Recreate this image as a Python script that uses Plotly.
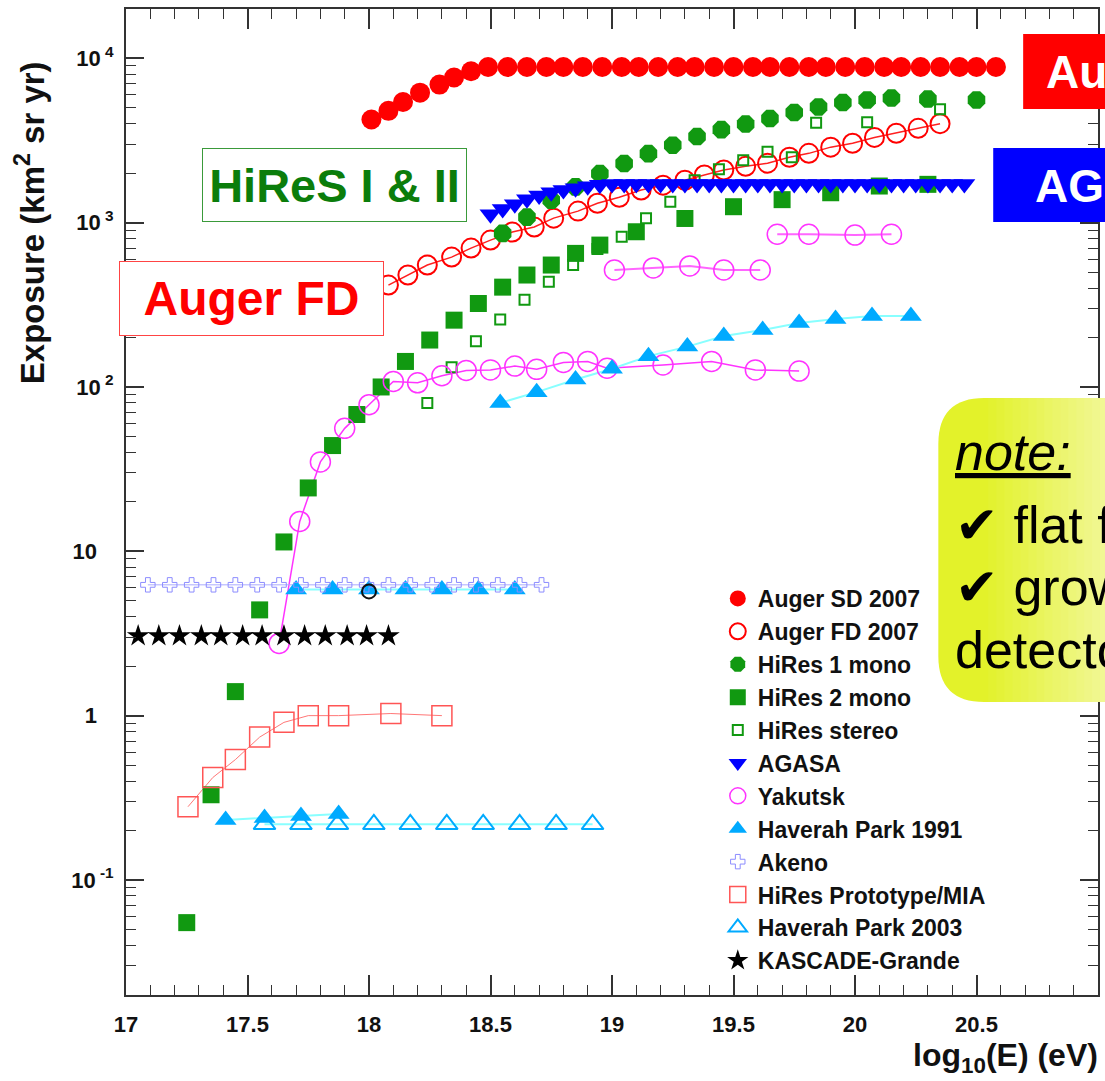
import plotly.graph_objects as go

# ---------------- data (lg E , exposure km^2 sr yr) ----------------
sd_x = [18.01, 18.08, 18.14, 18.21, 18.29, 18.35, 18.42, 18.49, 18.57, 18.65, 18.73, 18.80,
        18.88, 18.96, 19.04, 19.11, 19.19, 19.27, 19.34, 19.42, 19.50, 19.58, 19.65, 19.73,
        19.81, 19.88, 19.96, 20.04, 20.12, 20.19, 20.27, 20.35, 20.43, 20.50, 20.58]
sd_y = [4240, 4790, 5420, 6180, 6920, 7640, 8340, 8850, 8850, 8850, 8850, 8850,
        8850, 8850, 8850, 8850, 8850, 8850, 8850, 8850, 8850, 8850, 8850, 8850,
        8850, 8850, 8850, 8850, 8850, 8850, 8850, 8850, 8850, 8850, 8850]

fd_x = [18.08, 18.16, 18.24, 18.34, 18.42, 18.50, 18.59, 18.68, 18.76, 18.86, 18.94, 19.03,
        19.12, 19.21, 19.30, 19.38, 19.46, 19.55, 19.64, 19.73, 19.81, 19.90, 19.99, 20.08,
        20.17, 20.26, 20.35]
fd_y = [417, 480, 552, 617, 700, 783, 876, 940, 1065, 1175, 1312, 1428,
        1578, 1690, 1812, 1950, 2090, 2200, 2300, 2500, 2640, 2880, 3040, 3300,
        3500, 3750, 4000]

h1_x = [18.55, 18.65, 18.75, 18.85, 18.95, 19.05, 19.15, 19.25, 19.35, 19.45, 19.55, 19.65,
        19.75, 19.85, 19.95, 20.05, 20.15, 20.30, 20.50]
h1_y = [860, 1080, 1370, 1650, 1990, 2290, 2630, 2960, 3340, 3680, 3980, 4300,
        4680, 5060, 5380, 5580, 5730, 5650, 5580]

h2_x = [17.25, 17.35, 17.45, 17.55, 17.65, 17.75, 17.85, 17.95, 18.05, 18.15, 18.25, 18.35,
        18.45, 18.55, 18.65, 18.75, 18.85, 18.95, 19.10, 19.30, 19.50, 19.70, 19.90, 20.10, 20.30]
h2_y = [0.055, 0.33, 1.4, 4.4, 11.4, 24.3, 44, 68, 100, 143, 193, 255,
        322, 405, 480, 552, 650, 730, 880, 1060, 1250, 1380, 1520, 1670, 1710]

hs_x = [18.24, 18.34, 18.44, 18.54, 18.64, 18.74, 18.84, 18.94, 19.04, 19.14, 19.24, 19.34,
        19.44, 19.54, 19.64, 19.74, 19.84, 20.05, 20.35]
hs_y = [80, 132, 190, 257, 340, 437, 552, 690, 820, 1065, 1340, 1810,
        2110, 2400, 2700, 2500, 4050, 4080, 4900]

ag_x = [18.50, 18.55, 18.60, 18.65, 18.70, 18.75, 18.80, 18.85, 18.90, 18.95,
        19.00, 19.05, 19.10, 19.15, 19.20, 19.25, 19.30, 19.35, 19.40, 19.45,
        19.50, 19.55, 19.60, 19.65, 19.70, 19.75, 19.80, 19.85, 19.90, 19.95,
        20.00, 20.05, 20.10, 20.15, 20.20, 20.25, 20.30, 20.35, 20.40, 20.45]
ag_y = [1125, 1210, 1295, 1390, 1460, 1530, 1580, 1620, 1665, 1700,
        1720, 1720, 1720, 1720, 1720, 1720, 1720, 1720, 1720, 1720,
        1720, 1720, 1720, 1720, 1720, 1720, 1720, 1720, 1720, 1720,
        1720, 1720, 1720, 1720, 1720, 1720, 1720, 1720, 1720, 1720]

yk1_x = [17.63, 17.715, 17.80, 17.90, 18.00, 18.10, 18.20, 18.30, 18.40, 18.50, 18.60, 18.69,
         18.80, 18.90, 18.98, 19.21, 19.41, 19.59, 19.77]
yk1_y = [2.75, 15.2, 35, 56, 78, 108, 106, 117, 126, 127, 134, 128,
         141, 143, 130, 136, 143, 127, 125]
yk2_x = [19.01, 19.17, 19.32, 19.46, 19.61]
yk2_y = [515, 530, 545, 515, 515]
yk3_x = [19.68, 19.81, 20.00, 20.15]
yk3_y = [850, 850, 840, 850]

hp91a_x = [17.41, 17.57, 17.72, 17.875]
hp91a_y = [0.232, 0.238, 0.245, 0.252]
hp91b_x = [17.70, 17.85, 18.00, 18.15, 18.30, 18.45, 18.60]
hp91b_y = [5.85, 5.85, 5.85, 5.85, 5.85, 5.85, 5.85]
hp91c_x = [18.54, 18.69, 18.85, 19.00, 19.15, 19.31, 19.46, 19.62, 19.77, 19.92, 20.07, 20.23]
hp91c_y = [80, 93, 111, 129, 154, 176, 204, 222, 245, 259, 270, 270]

hp03_x = [17.57, 17.72, 17.87, 18.02, 18.17, 18.32, 18.47, 18.62, 18.77, 18.92]
hp03_y = [0.218, 0.218, 0.218, 0.218, 0.218, 0.218, 0.218, 0.218, 0.218, 0.218]

ak_x = [17.09, 17.18, 17.27, 17.36, 17.45, 17.54, 17.63, 17.72, 17.81, 17.90,
        17.99, 18.08, 18.17, 18.26, 18.35, 18.44, 18.53, 18.62, 18.71]
ak_y = [6.25] * 19

proto_x = [17.255, 17.357, 17.45, 17.55, 17.65, 17.75, 17.875, 18.09, 18.30]
proto_y = [0.279, 0.42, 0.54, 0.74, 0.91, 1.0, 1.0, 1.03, 1.0]

kg_x = [17.05, 17.135, 17.22, 17.31, 17.39, 17.48, 17.56, 17.65, 17.735, 17.82, 17.91, 17.99, 18.08]
kg_y = [3.06] * 13

odd_x = [18.0]
odd_y = [5.7]

x_ticks = [17, 17.5, 18, 18.5, 19, 19.5, 20, 20.5, 21]
x_labels = ["17", "17.5", "18", "18.5", "19", "19.5", "20", "20.5", "21"]
y_ticks = [0.1, 1, 10, 100, 1000, 10000]
y_labels = ["10<sup> -1</sup>", "1\u2007\u2009", "10\u2007\u2009", "10<sup> 2</sup>",
            "10<sup> 3</sup>", "10<sup> 4</sup>"]

# ---------------- helpers (pixel -> paper) ----------------
L, R, T, B = 126, 1100, 9, 995
def px(x):
    return (x - L) / (R - L)
def py(y):
    return (B - y) / (B - T)

FONT = "Liberation Sans, Arial, Helvetica, sans-serif"
GREEN = "#119911"
CYAN = "#00aaff"
CYANL = "#88ffff"

fig = go.Figure()

def line(x, y, color, width=1.5, dash=None):
    fig.add_trace(go.Scatter(x=x, y=y, mode="lines", showlegend=False, hoverinfo="skip",
                             line=dict(color=color, width=width, dash=dash)))

def mk(x, y, name, symbol, size, color, lw=0, lc=None, show=True):
    fig.add_trace(go.Scatter(x=x, y=y, mode="markers", name=name, showlegend=show,
                             marker=dict(symbol=symbol, size=size, color=color,
                                         line=dict(width=lw, color=lc or color))))

# lines first
line(fd_x, fd_y, "#ff2020", 1.5)
line(yk1_x, yk1_y, "#ff33ff", 1.5)
line(yk2_x, yk2_y, "#ff66ff", 2)
line(yk3_x, yk3_y, "#ff66ff", 2)
line(hp91a_x, hp91a_y, CYANL, 2)
line(hp91b_x, hp91b_y, CYANL, 2)
line(hp91c_x, hp91c_y, CYANL, 2)
line(hp03_x, hp03_y, CYANL, 2)
line(ak_x, ak_y, "#aaaaff", 1)
line(proto_x, proto_y, "#ff7777", 1)

mk(sd_x, sd_y, "Auger SD 2007", "circle", 20, "#ff0000")
mk(fd_x, fd_y, "Auger FD 2007", "circle-open", 19, "#ff0000", lw=2)
mk(h1_x, h1_y, "HiRes 1 mono", "octagon", 19, GREEN)
mk(h2_x, h2_y, "HiRes 2 mono", "square", 17, GREEN)
mk(hs_x, hs_y, "HiRes stereo", "square-open", 10, GREEN, lw=2)
mk(ag_x, ag_y, "AGASA", "triangle-down", 19, "#0000ff")
mk(yk1_x + yk2_x + yk3_x, yk1_y + yk2_y + yk3_y, "Yakutsk", "circle-open", 20, "#ff33ff", lw=1.5)
mk(hp91a_x + hp91b_x + hp91c_x, hp91a_y + hp91b_y + hp91c_y, "Haverah Park 1991",
   "triangle-up", 19, CYAN)
mk(ak_x, ak_y, "Akeno", "cross-open", 12, "#8c8cff", lw=1)
mk(proto_x, proto_y, "HiRes Prototype/MIA", "square-open", 20, "#ff5555", lw=1.5)
mk(hp03_x, hp03_y, "Haverah Park 2003", "triangle-up-open", 19, CYAN, lw=2)
mk(kg_x, kg_y, "KASCADE-Grande", "star", 17, "#000000")
mk(odd_x, odd_y, "", "circle-open", 14, "#111111", lw=2, show=False)

# minor tick values for the log axis
minor_y = []
for d in range(-2, 5):
    for k in range(2, 10):
        v = k * 10 ** d
        if 0.02 <= v <= 19000:
            minor_y.append(v)

axcol = "#333333"
fig.update_xaxes(range=[17, 21], tickmode="array", tickvals=x_ticks, ticktext=x_labels,
                 ticks="inside", ticklen=20, tickwidth=1.5, tickcolor=axcol,
                 showline=True, linecolor=axcol, linewidth=2, mirror="allticks",
                 showgrid=False, zeroline=False, ticklabelstandoff=9,
                 minor=dict(dtick=0.1, tick0=17, ticks="inside", ticklen=10, tickwidth=1,
                            tickcolor=axcol, showgrid=False),
                 tickfont=dict(family=FONT, size=22, color="#111", weight="bold"))
fig.update_yaxes(type="log", range=[-1.7, 4.3], tickmode="array", tickvals=y_ticks,
                 ticktext=y_labels, ticks="inside", ticklen=18, tickwidth=1.5, tickcolor=axcol,
                 showline=True, linecolor=axcol, linewidth=2, mirror="allticks",
                 showgrid=False, zeroline=False, ticklabelstandoff=6,
                 minor=dict(tickmode="array", tickvals=minor_y, ticks="inside", ticklen=10,
                            tickwidth=1, tickcolor=axcol, showgrid=False),
                 tickfont=dict(family=FONT, size=22, color="#111", weight="bold"))

# ---------------- shapes ----------------
shapes = []
# Auger SD / AGASA filled boxes (cut at the right edge)
shapes.append(dict(type="rect", xref="paper", yref="paper", x0=px(1025), x1=px(1140),
                   y0=py(109), y1=py(34), fillcolor="#ff0000", line=dict(width=0), layer="above"))
shapes.append(dict(type="rect", xref="paper", yref="paper", x0=px(995), x1=px(1140),
                   y0=py(222), y1=py(148), fillcolor="#0000ff", line=dict(width=0), layer="above"))

# rounded yellow note box
x0, x1, y0, y1, r = 940, 1140, 398, 702, 46
def P(x, y):
    return f"{px(x):.5f},{py(y):.5f}"
path = (f"M{P(x0 + r, y0)} L{P(x1, y0)} L{P(x1, y1)} L{P(x0 + r, y1)} "
        f"Q{P(x0, y1)} {P(x0, y1 - r)} L{P(x0, y0 + r)} Q{P(x0, y0)} {P(x0 + r, y0)} Z")
shapes.append(dict(type="path", xref="paper", yref="paper", path=path,
                   fillcolor="#e3f22a", line=dict(width=0), layer="above"))
# gradient strips toward lighter yellow on the right
c0 = (0xe3, 0xf2, 0x2a)
c1 = (0xf2, 0xf8, 0x9c)
n = 16
for i in range(n):
    xa = 990 + i * 8
    t = (i + 1) / n
    col = "#%02x%02x%02x" % tuple(int(c0[j] + (c1[j] - c0[j]) * t) for j in range(3))
    shapes.append(dict(type="rect", xref="paper", yref="paper", x0=px(xa), x1=px(xa + 8.5),
                       y0=py(y1), y1=py(y0), fillcolor=col, line=dict(width=0), layer="above"))

fig.update_layout(shapes=shapes)

# ---------------- annotations ----------------
ann = []
ann.append(dict(xref="paper", yref="paper", x=px(251.5), y=py(298.5), xanchor="center",
                yanchor="middle", text="<b>Auger FD</b>", showarrow=False,
                font=dict(family=FONT, size=48, color="#ff0000"), bgcolor="white",
                bordercolor="#ff4444", borderwidth=1, borderpad=0, width=263, height=73))
ann.append(dict(xref="paper", yref="paper", x=px(334.5), y=py(185), xanchor="center",
                yanchor="middle", text="<b>HiReS I &amp; II</b>", showarrow=False,
                font=dict(family=FONT, size=47, color="#0b7d0b"), bgcolor="white",
                bordercolor="#3a9a3a", borderwidth=1, borderpad=0, width=263, height=72))
ann.append(dict(xref="paper", yref="paper", x=px(1046), y=py(72), xanchor="left",
                yanchor="middle", text="<b>Auger SD</b>", showarrow=False,
                font=dict(family=FONT, size=46, color="white")))
ann.append(dict(xref="paper", yref="paper", x=px(1035), y=py(186), xanchor="left",
                yanchor="middle", text="<b>AGASA</b>", showarrow=False,
                font=dict(family=FONT, size=46, color="white")))
note_lines = ["<i><u>note:</u></i>", "\u2714 flat for SD", "\u2714 growing for FD", "detectors"]
note_y = [452, 525, 587, 650]
for t, yy in zip(note_lines, note_y):
    ann.append(dict(xref="paper", yref="paper", x=px(955), y=py(yy), xanchor="left",
                    yanchor="middle", text=t, showarrow=False,
                    font=dict(family=FONT, size=52, color="black")))
# axis titles
ann.append(dict(xref="paper", yref="paper", x=px(30), y=py(223), xanchor="center",
                yanchor="middle", textangle=-90, showarrow=False,
                text="<b>Exposure (km<sup>2</sup> sr yr)</b>",
                font=dict(family=FONT, size=33, color="#111")))
ann.append(dict(xref="paper", yref="paper", x=px(1102), y=py(1057), xanchor="right",
                yanchor="middle", showarrow=False,
                text="<b>log<sub>10</sub>(E) (eV)</b>",
                font=dict(family=FONT, size=32, color="#111")))

fig.update_layout(
    annotations=ann,
    width=1105, height=1081,
    margin=dict(l=126, r=5, t=9, b=86),
    paper_bgcolor="white", plot_bgcolor="white",
    font=dict(family=FONT),
    legend=dict(x=px(719), y=py(577), xanchor="left", yanchor="top",
                bgcolor="rgba(0,0,0,0)", borderwidth=0, itemsizing="trace",
                font=dict(family=FONT, size=23, color="#111", weight="bold")),
)

fig.write_html("out.html")
